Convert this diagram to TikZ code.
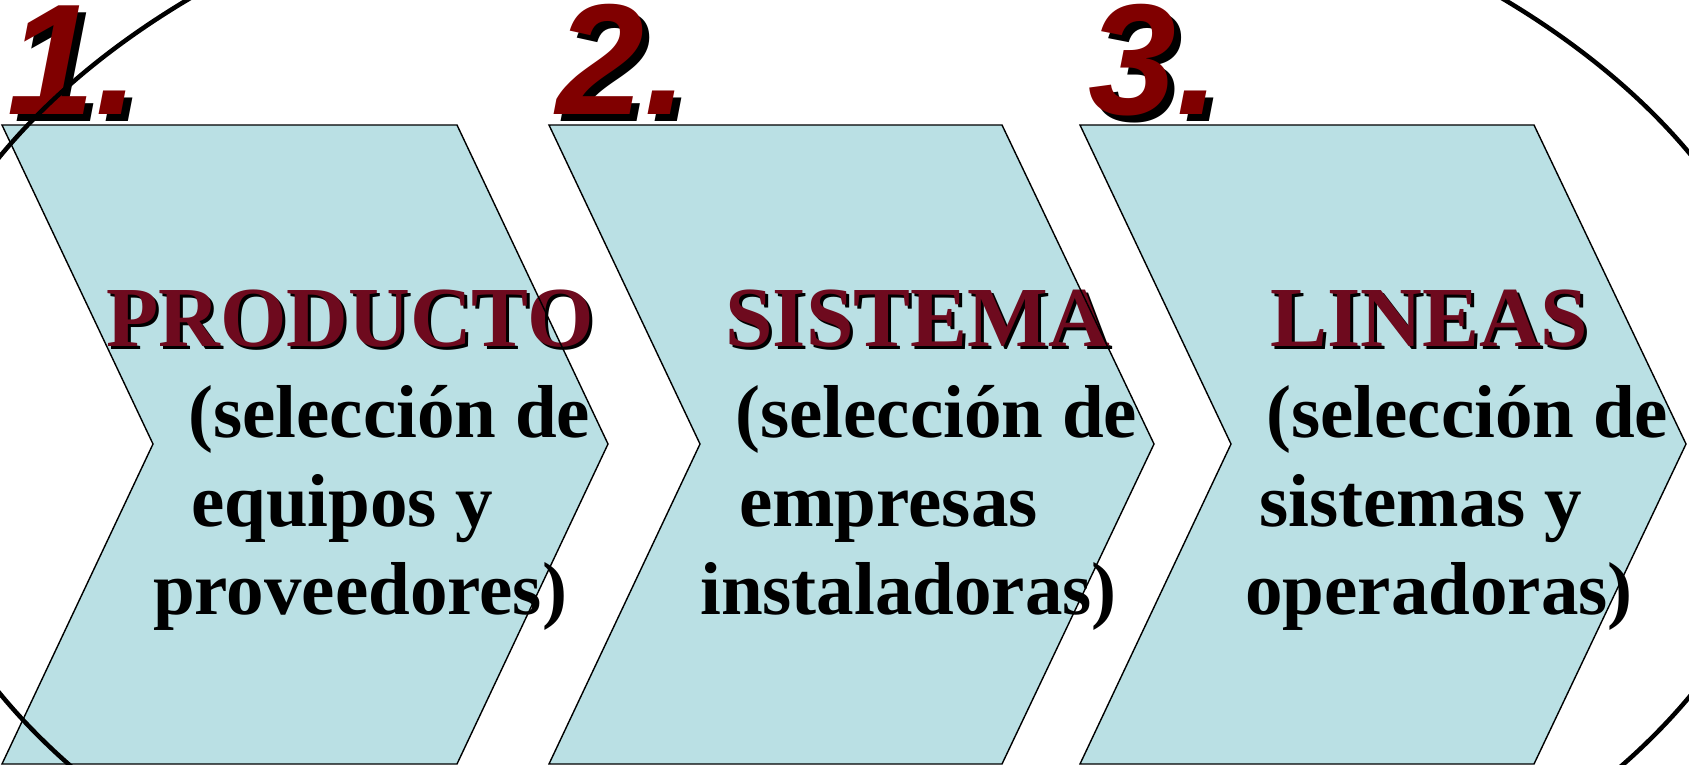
\documentclass[tikz,border=0pt]{standalone}
\usepackage{fontspec}
\setmainfont{Liberation Serif}
\newfontfamily\numfont{Liberation Sans}
\definecolor{chevblue}{HTML}{BAE0E4}
\definecolor{titlered}{HTML}{6E0A1E}
\definecolor{numred}{HTML}{800000}
\tikzset{
  chevfill/.style={fill=chevblue},
  chevedge/.style={draw=black, line width=1.4pt, line join=miter},
  numtext/.style={anchor=base west, inner sep=0pt,
    font=\numfont\bfseries\itshape\fontsize{158}{158}\selectfont},
  titletext/.style={anchor=base west, inner sep=0pt,
    font=\bfseries\fontsize{85.5}{85.5}\selectfont},
  bodytext/.style={anchor=base west, inner sep=0pt,
    font=\bfseries\fontsize{75}{75}\selectfont},
}
\begin{document}
\begin{tikzpicture}[x=1pt, y=-1pt]
  \useasboundingbox (0,0) rectangle (1689,765);
  \clip (0,0) rectangle (1689,765);
  % chevron fills
  \fill[chevfill] (2,125) -- (457,125) -- (608,444) -- (457,764) -- (2,764) -- (153,444) -- cycle;
  \fill[chevfill] (549,125) -- (1002,125) -- (1154,444) -- (1002,764) -- (549,764) -- (700,444) -- cycle;
  \fill[chevfill] (1080,125) -- (1534,125) -- (1686,444) -- (1534,764) -- (1080,764) -- (1231,444) -- cycle;
  % step numbers
  \node[numtext, black] (n1s) at (14,122) {1.};
  \node[numtext, numred] (n1) at (7,115) {1.};
  \node[numtext, black] (n2s) at (563,122) {2.};
  \node[numtext, numred] (n2) at (556,115) {2.};
  \node[numtext, black] (n3s) at (1095,122) {3.};
  \node[numtext, numred] (n3) at (1088,115) {3.};
  % first chevron
  \node[titletext, black] (p1s) at (109,349) {PRODUCTO};
  \node[titletext, titlered] (p1) at (106,346) {PRODUCTO};
  \node[bodytext] (p2) at (188,437) {(selección de};
  \node[bodytext] (p3) at (191,526) {equipos y};
  \node[bodytext] (p4) at (153,614) {proveedores)};
  % second chevron
  \node[titletext, black] (s1s) at (728,349) {SISTEMA};
  \node[titletext, titlered] (s1) at (725,346) {SISTEMA};
  \node[bodytext] (s2) at (735,437) {(selección de};
  \node[bodytext] (s3) at (739,526) {empresas};
  \node[bodytext] (s4) at (700,614) {instaladoras)};
  % third chevron
  \node[titletext, black] (l1s) at (1273,349) {LINEAS};
  \node[titletext, titlered] (l1) at (1270,346) {LINEAS};
  \node[bodytext] (l2) at (1266,437) {(selección de};
  \node[bodytext] (l3) at (1259,526) {sistemas y};
  \node[bodytext] (l4) at (1245,614) {operadoras)};
  % chevron outlines
  \draw[chevedge] (2,125) -- (457,125) -- (608,444) -- (457,764) -- (2,764) -- (153,444) -- cycle;
  \draw[chevedge] (549,125) -- (1002,125) -- (1154,444) -- (1002,764) -- (549,764) -- (700,444) -- cycle;
  \draw[chevedge] (1080,125) -- (1534,125) -- (1686,444) -- (1534,764) -- (1080,764) -- (1231,444) -- cycle;
  % big ring
  \draw[line width=4.5pt] (846,425) ellipse [x radius=950pt, y radius=590pt];
\end{tikzpicture}
\end{document}
